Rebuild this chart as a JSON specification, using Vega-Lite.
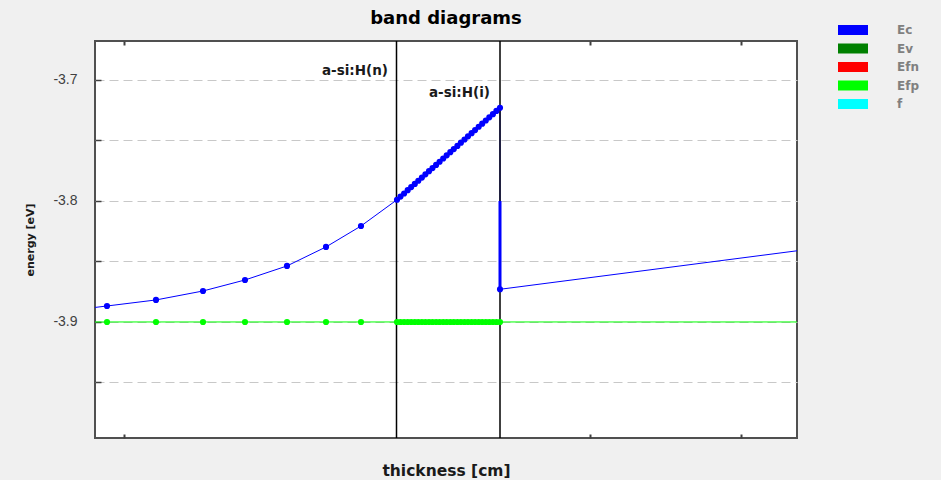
{
  "$schema": "https://vega.github.io/schema/vega-lite/v6.json",
  "width": 702,
  "height": 397,
  "autosize": {"type": "none"},
  "padding": {"left": 95, "top": 41, "right": 144, "bottom": 42},
  "background": "#f0f0f0",
  "title": {"text": "band diagrams", "fontSize": 18, "font": "DejaVu Sans", "fontWeight": "bold", "color": "#000000", "anchor": "middle", "offset": -4},
  "config": {
    "view": {"fill": "#ffffff", "stroke": "#505050", "strokeWidth": 2},
    "font": "Liberation Sans",
    "legend": {"orient": "none", "legendX": 752, "legendY": -17, "title": null, "padding": 0,
      "symbolType": "M-3,-1H3V1H-3Z", "symbolSize": 100, "symbolStrokeWidth": 0, "symbolOpacity": 1,
      "rowPadding": 6.5, "labelOffset": 38, "labelFont": "DejaVu Sans", "labelFontSize": 12, "labelFontWeight": "bold", "labelColor": "#808080"}
  },
  "datasets": {
    "bands": [
      {"s": "Ec", "i": 0, "x": -0.12, "E": -3.8892},
      {"s": "Ec", "i": 1, "x": 0.12, "E": -3.8868},
      {"s": "Ec", "i": 2, "x": 0.61, "E": -3.8818},
      {"s": "Ec", "i": 3, "x": 1.08, "E": -3.8744},
      {"s": "Ec", "i": 4, "x": 1.5, "E": -3.8653},
      {"s": "Ec", "i": 5, "x": 1.92, "E": -3.8537},
      {"s": "Ec", "i": 6, "x": 2.31, "E": -3.838},
      {"s": "Ec", "i": 7, "x": 2.66, "E": -3.8207},
      {"s": "Ec", "i": 8, "x": 3.02, "E": -3.799},
      {"s": "Ec", "i": 9, "x": 3.055, "E": -3.7964},
      {"s": "Ec", "i": 10, "x": 3.091, "E": -3.7938},
      {"s": "Ec", "i": 11, "x": 3.127, "E": -3.7911},
      {"s": "Ec", "i": 12, "x": 3.162, "E": -3.7885},
      {"s": "Ec", "i": 13, "x": 3.198, "E": -3.7859},
      {"s": "Ec", "i": 14, "x": 3.233, "E": -3.7833},
      {"s": "Ec", "i": 15, "x": 3.269, "E": -3.7807},
      {"s": "Ec", "i": 16, "x": 3.304, "E": -3.778},
      {"s": "Ec", "i": 17, "x": 3.34, "E": -3.7754},
      {"s": "Ec", "i": 18, "x": 3.375, "E": -3.7728},
      {"s": "Ec", "i": 19, "x": 3.411, "E": -3.7702},
      {"s": "Ec", "i": 20, "x": 3.446, "E": -3.7676},
      {"s": "Ec", "i": 21, "x": 3.482, "E": -3.7649},
      {"s": "Ec", "i": 22, "x": 3.517, "E": -3.7623},
      {"s": "Ec", "i": 23, "x": 3.553, "E": -3.7597},
      {"s": "Ec", "i": 24, "x": 3.588, "E": -3.7571},
      {"s": "Ec", "i": 25, "x": 3.624, "E": -3.7545},
      {"s": "Ec", "i": 26, "x": 3.659, "E": -3.7518},
      {"s": "Ec", "i": 27, "x": 3.695, "E": -3.7492},
      {"s": "Ec", "i": 28, "x": 3.73, "E": -3.7466},
      {"s": "Ec", "i": 29, "x": 3.766, "E": -3.744},
      {"s": "Ec", "i": 30, "x": 3.801, "E": -3.7414},
      {"s": "Ec", "i": 31, "x": 3.837, "E": -3.7387},
      {"s": "Ec", "i": 32, "x": 3.872, "E": -3.7361},
      {"s": "Ec", "i": 33, "x": 3.908, "E": -3.7335},
      {"s": "Ec", "i": 34, "x": 3.943, "E": -3.7309},
      {"s": "Ec", "i": 35, "x": 3.979, "E": -3.7283},
      {"s": "Ec", "i": 36, "x": 4.014, "E": -3.7256},
      {"s": "Ec", "i": 37, "x": 4.05, "E": -3.723},
      {"s": "Ec", "i": 38, "x": 4.05, "E": -3.873},
      {"s": "Ec", "i": 39, "x": 7.55, "E": -3.8355},
      {"s": "Efp", "i": 0, "x": -0.12, "E": -3.9},
      {"s": "Efp", "i": 1, "x": 0.12, "E": -3.9},
      {"s": "Efp", "i": 2, "x": 0.61, "E": -3.9},
      {"s": "Efp", "i": 3, "x": 1.08, "E": -3.9},
      {"s": "Efp", "i": 4, "x": 1.5, "E": -3.9},
      {"s": "Efp", "i": 5, "x": 1.92, "E": -3.9},
      {"s": "Efp", "i": 6, "x": 2.31, "E": -3.9},
      {"s": "Efp", "i": 7, "x": 2.66, "E": -3.9},
      {"s": "Efp", "i": 8, "x": 3.02, "E": -3.9},
      {"s": "Efp", "i": 9, "x": 3.055, "E": -3.9},
      {"s": "Efp", "i": 10, "x": 3.091, "E": -3.9},
      {"s": "Efp", "i": 11, "x": 3.127, "E": -3.9},
      {"s": "Efp", "i": 12, "x": 3.162, "E": -3.9},
      {"s": "Efp", "i": 13, "x": 3.198, "E": -3.9},
      {"s": "Efp", "i": 14, "x": 3.233, "E": -3.9},
      {"s": "Efp", "i": 15, "x": 3.269, "E": -3.9},
      {"s": "Efp", "i": 16, "x": 3.304, "E": -3.9},
      {"s": "Efp", "i": 17, "x": 3.34, "E": -3.9},
      {"s": "Efp", "i": 18, "x": 3.375, "E": -3.9},
      {"s": "Efp", "i": 19, "x": 3.411, "E": -3.9},
      {"s": "Efp", "i": 20, "x": 3.446, "E": -3.9},
      {"s": "Efp", "i": 21, "x": 3.482, "E": -3.9},
      {"s": "Efp", "i": 22, "x": 3.517, "E": -3.9},
      {"s": "Efp", "i": 23, "x": 3.553, "E": -3.9},
      {"s": "Efp", "i": 24, "x": 3.588, "E": -3.9},
      {"s": "Efp", "i": 25, "x": 3.624, "E": -3.9},
      {"s": "Efp", "i": 26, "x": 3.659, "E": -3.9},
      {"s": "Efp", "i": 27, "x": 3.695, "E": -3.9},
      {"s": "Efp", "i": 28, "x": 3.73, "E": -3.9},
      {"s": "Efp", "i": 29, "x": 3.766, "E": -3.9},
      {"s": "Efp", "i": 30, "x": 3.801, "E": -3.9},
      {"s": "Efp", "i": 31, "x": 3.837, "E": -3.9},
      {"s": "Efp", "i": 32, "x": 3.872, "E": -3.9},
      {"s": "Efp", "i": 33, "x": 3.908, "E": -3.9},
      {"s": "Efp", "i": 34, "x": 3.943, "E": -3.9},
      {"s": "Efp", "i": 35, "x": 3.979, "E": -3.9},
      {"s": "Efp", "i": 36, "x": 4.014, "E": -3.9},
      {"s": "Efp", "i": 37, "x": 4.05, "E": -3.9},
      {"s": "Efp", "i": 38, "x": 7.55, "E": -3.9}
    ],
    "layers": [{"x": 3.015}, {"x": 4.05}],
    "jump": [{"x": 4.05, "E": -3.8, "E2": -3.873}],
    "labels": [
      {"label": "a-si:H(n)", "x": 2.93, "E": -3.6926},
      {"label": "a-si:H(i)", "x": 3.95, "E": -3.7107}
    ]
  },
  "resolve": {"axis": {"x": "independent"}},
  "layer": [
    {
      "data": {"name": "bands"},
      "mark": {"type": "line", "clip": true, "strokeWidth": 1},
      "encoding": {
        "x": {"field": "x", "type": "quantitative", "scale": {"domain": [0, 7.02], "nice": false, "zero": false},
          "axis": {"orient": "bottom", "values": [0.29, 4.95, 6.46], "labels": false, "tickSize": -4, "tickColor": "#404040", "tickWidth": 2, "domain": false, "grid": false,
            "title": "thickness [cm]", "titleFont": "DejaVu Sans", "titleFontSize": 15.5, "titleFontWeight": "bold", "titleColor": "#1a1a1a", "titlePadding": 24}},
        "y": {"field": "E", "type": "quantitative", "scale": {"domain": [-3.9959, -3.6678], "nice": false, "zero": false},
          "axis": {"values": [-3.95, -3.9, -3.85, -3.8, -3.75, -3.7],
            "labelExpr": "abs(datum.value*10 - round(datum.value*10)) < 0.01 ? '' + datum.value : ''",
            "labelFont": "Liberation Sans", "labelFontSize": 14, "labelColor": "#404040", "labelPadding": 24,
            "tickSize": -6, "tickColor": "#404040", "tickWidth": 1.5, "domain": false,
            "grid": true, "gridColor": "#c8c8c8", "gridDash": [9, 5], "gridWidth": 1,
            "title": "energy [eV]", "titleFont": "DejaVu Sans", "titleFontSize": 11, "titleFontWeight": "bold", "titleColor": "#1a1a1a", "titlePadding": 17}},
        "color": {"field": "s", "type": "nominal",
          "scale": {"domain": ["Ec", "Ev", "Efn", "Efp", "f"], "range": ["#0000ff", "#008000", "#ff0000", "#00ff00", "#00ffff"]}},
        "detail": {"field": "s"},
        "order": {"field": "i", "type": "quantitative"}
      }
    },
    {
      "data": {"name": "layers"},
      "mark": {"type": "rule", "color": "#000000", "strokeWidth": 1.5},
      "encoding": {
        "x": {"field": "x", "type": "quantitative",
          "axis": {"orient": "top", "values": [0.29, 4.95, 6.46], "labels": false, "tickSize": -4, "tickColor": "#404040", "tickWidth": 2, "domain": false, "grid": false, "title": null}}
      }
    },
    {
      "data": {"name": "jump"},
      "mark": {"type": "rule", "color": "#0000ff", "strokeWidth": 3},
      "encoding": {
        "x": {"field": "x", "type": "quantitative", "axis": null},
        "y": {"field": "E", "type": "quantitative"},
        "y2": {"field": "E2"}
      }
    },
    {
      "data": {"name": "bands"},
      "mark": {"type": "point", "filled": true, "opacity": 1, "size": 38, "clip": true},
      "encoding": {
        "x": {"field": "x", "type": "quantitative", "axis": null},
        "y": {"field": "E", "type": "quantitative"},
        "color": {"field": "s", "type": "nominal"}
      }
    },
    {
      "data": {"name": "labels"},
      "mark": {"type": "text", "align": "right", "baseline": "middle", "font": "DejaVu Sans", "fontSize": 13.5, "fontWeight": "bold", "color": "#1a1a1a"},
      "encoding": {
        "x": {"field": "x", "type": "quantitative", "axis": null},
        "y": {"field": "E", "type": "quantitative"},
        "text": {"field": "label"}
      }
    }
  ]
}
